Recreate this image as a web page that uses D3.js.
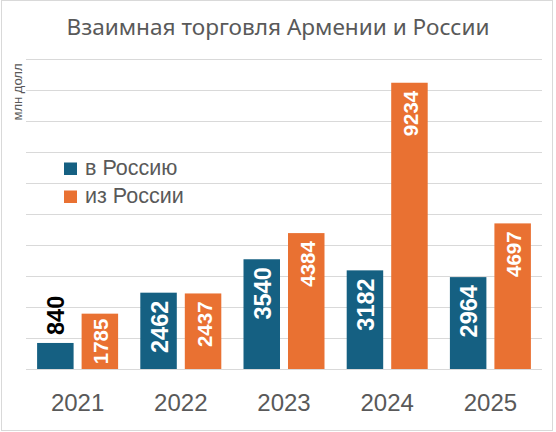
<!DOCTYPE html>
<html>
<head>
<meta charset="utf-8">
<script src="https://cdn.jsdelivr.net/npm/d3@7/dist/d3.min.js"></script>
<style>
  html, body { margin: 0; padding: 0; background: #fff; }
  svg { display: block; }
</style>
</head>
<body>
<svg id="chart" width="556" height="432"></svg>
<script>
const title = "Взаимная торговля Армении и России";
const yAxisLabel = "млн долл";
const years = ["2021", "2022", "2023", "2024", "2025"];
const seriesNames = ["в Россию", "из России"];
const toRussia = [840, 2462, 3540, 3182, 2964];
const fromRussia = [1785, 2437, 4384, 9234, 4697];
const yTicks = [0, 1000, 2000, 3000, 4000, 5000, 6000, 7000, 8000, 9000, 10000];
const colors = ["#156082", "#E97132"];

const svg = d3.select("#chart");
const textColor = "#595959";

// outer border
svg.append("rect").attr("x", 1.5).attr("y", 0.5).attr("width", 551).attr("height", 430)
  .attr("fill", "#fff").attr("stroke", "#d9d9d9").attr("stroke-width", 1);

const plot = { left: 26, right: 542, top: 59, bottom: 369 };

const y = d3.scaleLinear().domain([0, 10000]).range([plot.bottom, plot.top]);
const x0 = d3.scaleBand().domain(years).range([plot.left, plot.right]).paddingInner(0).paddingOuter(0);
const groupW = 81;
const off = (x0.bandwidth() - groupW) / 2;
const x1 = d3.scaleBand().domain(seriesNames).range([off, off + groupW]).paddingInner(0.18).paddingOuter(0);

// gridlines
svg.append("g").selectAll("line").data(yTicks).join("line")
  .attr("x1", plot.left).attr("x2", plot.right)
  .attr("y1", d => Math.round(y(d)) + 0.5).attr("y2", d => Math.round(y(d)) + 0.5)
  .attr("stroke", "#d9d9d9").attr("stroke-width", 1);

// title
svg.append("text").attr("x", 278).attr("y", 35).attr("text-anchor", "middle")
  .attr("font-family", "'Noto Sans', sans-serif").attr("font-size", 22.6)
  .attr("fill", textColor).text(title);

// y axis label
svg.append("text").attr("transform", "translate(22,92) rotate(-90)")
  .attr("text-anchor", "middle")
  .attr("font-family", "'Liberation Sans', Arial, sans-serif").attr("font-size", 13)
  .attr("fill", textColor).text(yAxisLabel);

// data rows
const labelFonts = [23.5, 20.5];
const rows = years.map((yr, i) => ({ year: yr, values: [
  { key: seriesNames[0], value: toRussia[i], color: colors[0], fs: labelFonts[0] },
  { key: seriesNames[1], value: fromRussia[i], color: colors[1], fs: labelFonts[1] }
]}));

const groups = svg.append("g").selectAll("g").data(rows).join("g")
  .attr("transform", d => `translate(${x0(d.year)},0)`);

groups.selectAll("rect").data(d => d.values).join("rect")
  .attr("x", d => x1(d.key)).attr("width", x1.bandwidth())
  .attr("y", d => y(d.value)).attr("height", d => y(0) - y(d.value))
  .attr("fill", d => d.color);

groups.selectAll("text.val").data(d => d.values).join("text")
  .attr("class", "val")
  .each(function(d) {
    const barH = y(0) - y(d.value);
    const inside = barH > 40;
    const cx = x1(d.key) + x1.bandwidth() / 2;
    const top = y(d.value);
    const pad = barH < 60 ? 5 : 8;
    const sel = d3.select(this)
      .attr("font-family", "'Liberation Sans', Arial, sans-serif")
      .attr("font-weight", "bold").attr("font-size", d.fs)
      .attr("dominant-baseline", "central")
      .text(d.value);
    if (inside) {
      sel.attr("transform", `translate(${cx + 1},${top + pad}) rotate(-90)`)
        .attr("text-anchor", "end").attr("fill", "#fff");
    } else {
      sel.attr("transform", `translate(${cx + 1},${top - 8}) rotate(-90)`)
        .attr("text-anchor", "start").attr("fill", "#000");
    }
  });

// x labels
svg.append("g").selectAll("text").data(years).join("text")
  .attr("x", d => x0(d) + x0.bandwidth() / 2).attr("y", 411)
  .attr("text-anchor", "middle")
  .attr("font-family", "'Liberation Sans', Arial, sans-serif").attr("font-size", 24)
  .attr("fill", textColor).text(d => d);

// legend
const legend = svg.append("g").selectAll("g").data(seriesNames).join("g")
  .attr("transform", (d, i) => `translate(64,${162.5 + i * 28})`);
legend.append("rect").attr("width", 13).attr("height", 12.5)
  .attr("fill", (d, i) => colors[i]);
legend.append("text").attr("x", 21).attr("y", 12.8)
  .attr("font-family", "'Liberation Sans', Arial, sans-serif").attr("font-size", 21.5)
  .attr("fill", textColor).text(d => d);
</script>
</body>
</html>
